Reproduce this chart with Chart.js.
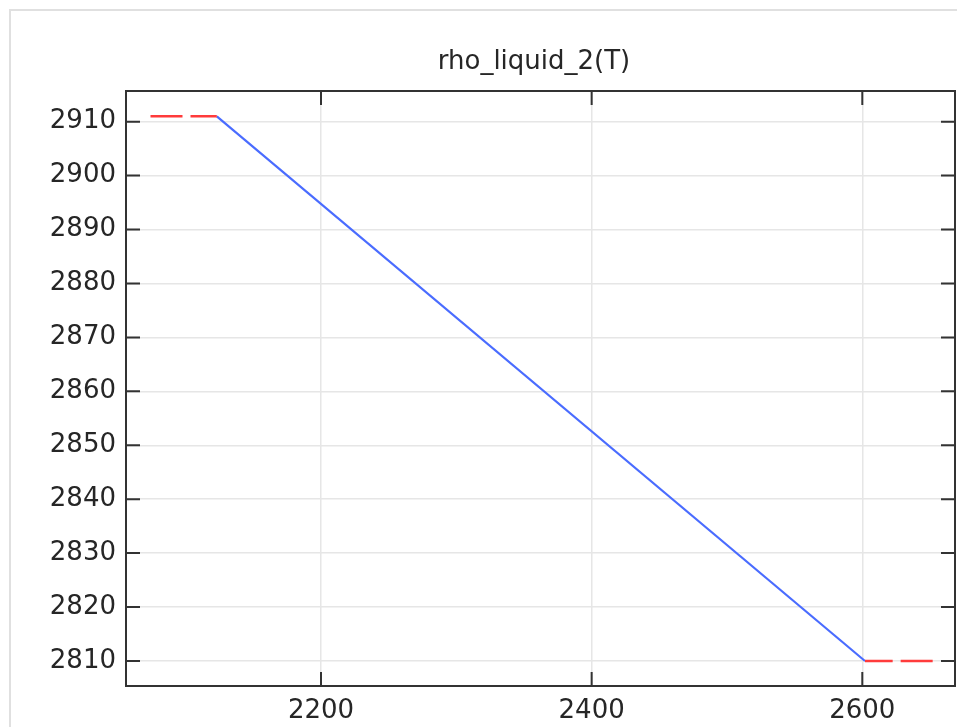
<!DOCTYPE html>
<html>
<head>
<meta charset="utf-8">
<title>rho_liquid_2(T)</title>
<style>
  html, body { margin: 0; padding: 0; background: #fff; }
  #wrap { position: relative; width: 957px; height: 727px; overflow: hidden; }
  #panel {
    position: absolute; left: 9px; top: 9px; width: 2000px; height: 2000px;
    border-left: 2px solid #e0e0e0; border-top: 2px solid #e0e0e0;
  }
  #plot { position: absolute; left: 0; top: 0; }
</style>
<script src="https://cdn.jsdelivr.net/npm/chart.js@4.4.1/dist/chart.umd.min.js"></script>
</head>
<body>
<div id="wrap">
  <div id="panel"></div>
  <canvas id="plot" width="957" height="727"></canvas>
</div>
<script>
// interpolated density over the tabulated temperature range
const T_RANGE = [2123, 2602];
const RHO_RANGE = [2911, 2810];
// constant extrapolation outside the range
const T_BELOW = [2074, 2123];
const RHO_BELOW = [2911, 2911];
const T_ABOVE = [2652, 2602];
const RHO_ABOVE = [2810, 2810];

const X_TICKS = [2200, 2400, 2600];
const Y_TICKS = [2810, 2820, 2830, 2840, 2850, 2860, 2870, 2880, 2890, 2900, 2910];

const X_MIN = 2055.9, X_MAX = 2668.5;
const Y_MIN = 2805.36, Y_MAX = 2915.69;

const FONT = 'DejaVu Sans';
const TEXT = '#262626';
const TICK_LEN = 14;

const pts = (xs, ys) => xs.map((x, i) => ({ x, y: ys[i] }));

// the y scale box is kept narrow so the title centres where we want it;
// widen it again after layout so its labels are not clipped
const unclipY = {
  id: 'unclipY',
  afterLayout(chart) {
    chart.scales.y.left = 0;
  }
};

// closed frame plus inward tick marks on all four sides
const frameTicks = {
  id: 'frameTicks',
  afterDatasetsDraw(chart) {
    const { ctx, chartArea: a, scales: { x, y } } = chart;
    ctx.save();
    ctx.strokeStyle = '#333';
    ctx.lineWidth = 2;
    ctx.beginPath();
    x.ticks.forEach((t) => {
      const px = x.getPixelForValue(t.value);
      ctx.moveTo(px, a.bottom); ctx.lineTo(px, a.bottom - TICK_LEN);
      ctx.moveTo(px, a.top); ctx.lineTo(px, a.top + TICK_LEN);
    });
    y.ticks.forEach((t) => {
      const py = y.getPixelForValue(t.value);
      ctx.moveTo(a.left, py); ctx.lineTo(a.left + TICK_LEN, py);
      ctx.moveTo(a.right, py); ctx.lineTo(a.right - TICK_LEN, py);
    });
    ctx.stroke();
    ctx.strokeRect(a.left, a.top, a.right - a.left, a.bottom - a.top);
    ctx.restore();
  }
};

new Chart(document.getElementById('plot'), {
  type: 'line',
  data: {
    datasets: [
      {
        data: pts(T_BELOW, RHO_BELOW),
        borderColor: '#ff3b3b',
        borderWidth: 2.5,
        borderDash: [32, 8],
        pointRadius: 0,
      },
      {
        data: pts(T_ABOVE, RHO_ABOVE),
        borderColor: '#ff3b3b',
        borderWidth: 2.5,
        borderDash: [32, 8],
        pointRadius: 0,
      },
      {
        data: pts(T_RANGE, RHO_RANGE),
        borderColor: '#4a6cff',
        borderWidth: 2.2,
        pointRadius: 0,
      },
    ],
  },
  options: {
    responsive: false,
    animation: false,
    layout: { padding: { left: 113, top: 47, right: 2, bottom: 0 } },
    plugins: {
      legend: { display: false },
      tooltip: { enabled: false },
      title: {
        display: true,
        text: 'rho_liquid_2(T)',
        color: TEXT,
        font: { family: FONT, size: 26, weight: 'normal' },
        padding: { top: 0, bottom: 12.8 },
      },
    },
    scales: {
      x: {
        type: 'linear',
        min: X_MIN,
        max: X_MAX,
        afterFit: (s) => { s.height = 41; },
        afterBuildTicks: (s) => { s.ticks = X_TICKS.map((v) => ({ value: v })); },
        grid: { color: '#e6e6e6', lineWidth: 1.5, drawTicks: false },
        border: { display: false },
        ticks: {
          color: TEXT,
          padding: 10,
          maxRotation: 0,
          font: { family: FONT, size: 26 },
          callback: (v) => String(v),
        },
      },
      y: {
        type: 'linear',
        min: Y_MIN,
        max: Y_MAX,
        afterFit: (s) => { s.width = 13; },
        afterBuildTicks: (s) => { s.ticks = Y_TICKS.map((v) => ({ value: v })); },
        grid: { color: '#e6e6e6', lineWidth: 1.5, drawTicks: false },
        border: { display: false },
        ticks: {
          color: TEXT,
          padding: 10,
          font: { family: FONT, size: 26 },
          callback: (v) => String(v),
        },
      },
    },
  },
  plugins: [unclipY, frameTicks],
});
</script>
</body>
</html>
